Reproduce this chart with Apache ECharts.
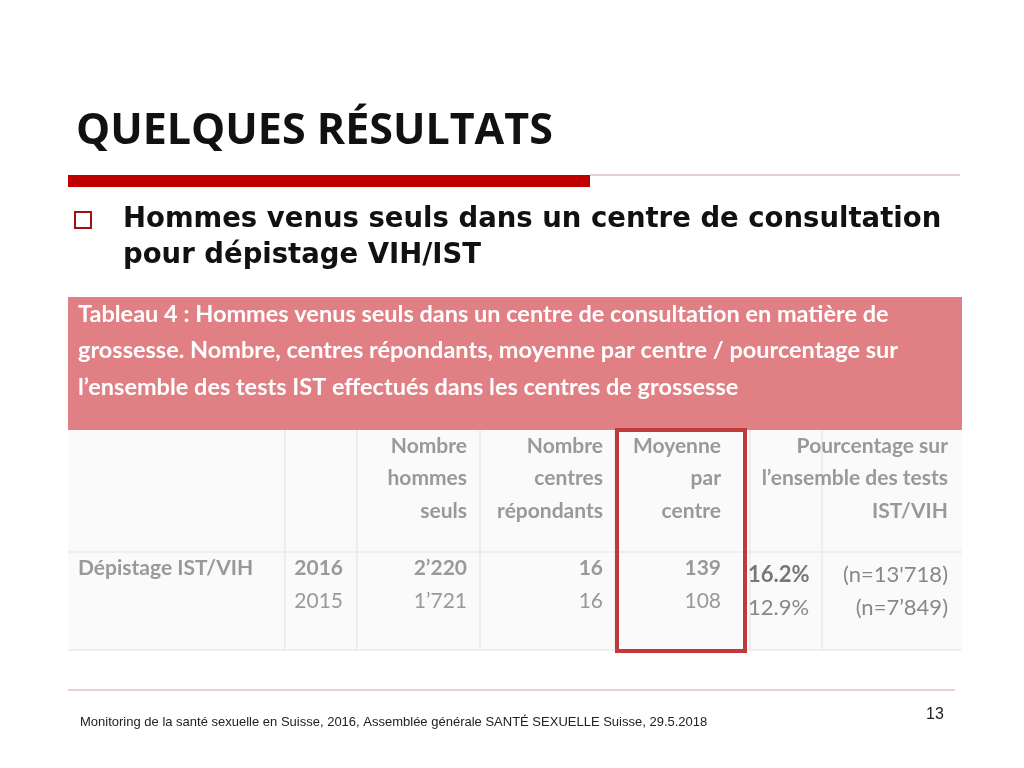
<!DOCTYPE html>
<html><head><meta charset="utf-8">
<script src="https://cdn.jsdelivr.net/npm/echarts@6/dist/echarts.min.js"></script>
<style>html,body{margin:0;padding:0;background:#fff}#c{width:1024px;height:768px}</style>
</head><body><div id="c"></div>
<script>
const title = "QUELQUES RÉSULTATS";
const bulletLines = ["Hommes venus seuls dans un centre de consultation", "pour dépistage VIH/IST"];
const captionLines = ["Tableau 4 : Hommes venus seuls dans un centre de consultation en matière de",
  "grossesse. Nombre, centres répondants, moyenne par centre / pourcentage sur",
  "l’ensemble des tests IST effectués dans les centres de grossesse"];
const headers = [["Nombre","hommes","seuls"],["Nombre","centres","répondants"],["Moyenne","par","centre"],["Pourcentage sur","l’ensemble des tests","IST/VIH"]];
const rowLabel = "Dépistage IST/VIH";
const years = ["2016","2015"];
const nbHommes = ["2’220","1’721"];
const nbCentres = ["16","16"];
const moyenne = ["139","108"];
const pct = ["16.2%","12.9%"];
const nTests = ["(n=13'718)","(n=7’849)"];
const footer = "Monitoring de la santé sexuelle en Suisse, 2016, Assemblée générale SANTÉ SEXUELLE Suisse, 29.5.2018";
const pageNum = "13";

const chart = echarts.init(document.getElementById('c'));
const g = [];
const T = (x,y,text,o) => g.push({type:'text',x,y,style:Object.assign({text,fill:'#999',font:'bold 21px Lato',textAlign:'left',textVerticalAlign:'middle'},o||{})});
const R = (x,y,w,h,o) => g.push({type:'rect',shape:{x,y,width:w,height:h},style:o});
const L = (x1,y1,x2,y2,c,w) => g.push({type:'line',shape:{x1,y1,x2,y2},style:{stroke:c,lineWidth:w||1}});

T(76,132,title,{fill:'#111',font:'bold 43px "Open Sans"'});
R(68,175,522,12,{fill:'#c00000'});
L(590,175,960,175,'#c9a0a0',1);
R(75,212,16,16,{fill:'none',stroke:'#a01010',lineWidth:2});
bulletLines.forEach((t,i)=>T(123,220+i*36,t,{fill:'#111',font:'bold 27.5px "DejaVu Sans"'}));

R(68,297,894,133,{fill:'#e07f84'});
captionLines.forEach((t,i)=>T(78,314+i*36.5,t,{fill:'#fff',font:'bold 23.5px Lato'}));
R(68,430,894,220,{fill:'#fafafa'});
[285,357,480,615,750,822].forEach(x=>L(x,430,x,650,'#e2e2e2',1));
L(68,552,962,552,'#e2e2e2',1);
L(68,650,962,650,'#e2e2e2',1);
const rights=[467,603,721,948];
headers.forEach((h,c)=>h.forEach((t,i)=>T(rights[c],446+i*32.5,t,{textAlign:'right'})));
T(78,568,rowLabel);
[0,1].forEach(i=>{
  const y=568+i*33, f = i===0?'bold 21px Lato':'21px Lato';
  T(343,y,years[i],{textAlign:'right',font:f});
  T(467,y,nbHommes[i],{textAlign:'right',font:f});
  T(603,y,nbCentres[i],{textAlign:'right',font:f});
  T(721,y,moyenne[i],{textAlign:'right',font:f});
  T(748,y+7,pct[i],{font:(i===0?'bold ':'')+'22px Lato',fill:i===0?'#777':'#888'});
  T(948,y+7,nTests[i],{textAlign:'right',font:'22px Lato',fill:'#888'});
});
R(617,430,128,221,{fill:'none',stroke:'#c0393b',lineWidth:4});

L(68,690,955,690,'#d9a0a0',1);
T(80,722,footer,{fill:'#222',font:'13px "Liberation Sans"'});
T(935,715,pageNum,{fill:'#222',font:'16px "Liberation Sans"',textAlign:'center'});

chart.setOption({animation:false,graphic:g});
</script></body></html>
